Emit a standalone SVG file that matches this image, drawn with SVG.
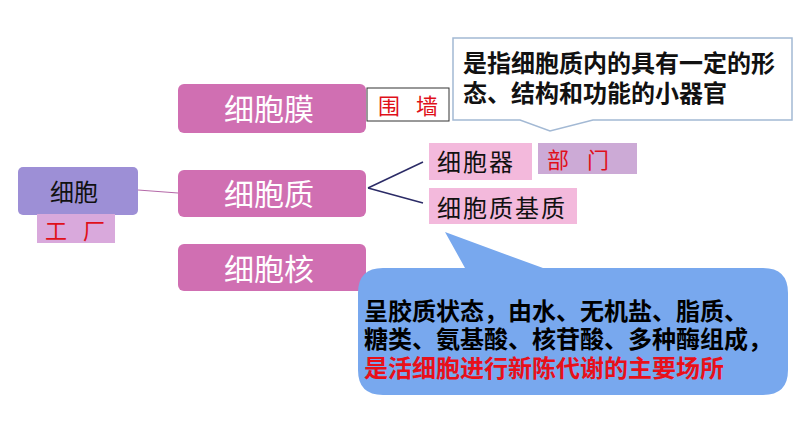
<svg xmlns="http://www.w3.org/2000/svg" width="794" height="447" viewBox="0 0 794 447">
<style>
.t{font-family:"Noto Sans CJK SC","Liberation Sans",sans-serif;}
.node{fill:#d06fb2;}
.nt{fill:#ffffff;font-size:30px;text-anchor:middle;dominant-baseline:central;}
.bt{fill:#111111;font-size:24px;text-anchor:middle;dominant-baseline:central;}
.rt{fill:#e0101a;font-size:22px;text-anchor:middle;dominant-baseline:central;}
.ct{font-size:24px;font-weight:bold;}
</style>
<rect width="794" height="447" fill="#ffffff"/>
<g id="connectors" fill="none">
<line x1="138" y1="190" x2="178" y2="193" stroke="#b56aa9" stroke-width="1.2"/>
<line x1="368" y1="188" x2="423" y2="162" stroke="#2b2b66" stroke-width="1.5"/>
<line x1="368" y1="188" x2="423" y2="203" stroke="#2b2b66" stroke-width="1.5"/>
</g>
<g id="cell">
<rect x="18" y="167" width="120" height="48" rx="5" fill="#9d8fd6"/>
<text class="t bt" x="74" y="190">细胞</text>
</g>
<g id="factory">
<rect x="37" y="214" width="78" height="29" fill="#d9a9dc"/>
<text class="t rt" x="83" y="229" letter-spacing="16">工厂</text>
</g>
<g id="membrane">
<rect class="node" x="178" y="84" width="188" height="49" rx="6"/>
<text class="t nt" x="269" y="107">细胞膜</text>
</g>
<g id="wall">
<rect x="367" y="88" width="82" height="33" fill="#ffffff" stroke="#333333" stroke-width="1"/>
<text class="t rt" x="416" y="104" letter-spacing="16">围墙</text>
</g>
<g id="cytoplasm">
<rect class="node" x="178" y="170" width="188" height="47" rx="6"/>
<text class="t nt" x="269" y="192">细胞质</text>
</g>
<g id="nucleus">
<rect class="node" x="178" y="244" width="188" height="47" rx="6"/>
<text class="t nt" x="269" y="267">细胞核</text>
</g>
<g id="organelle">
<rect x="429" y="143" width="103" height="37" fill="#f3b9dc"/>
<text class="t bt" x="476" y="160" letter-spacing="2">细胞器</text>
</g>
<g id="department">
<rect x="538" y="143" width="99" height="31" fill="#ccaad6"/>
<text class="t rt" x="587" y="158" letter-spacing="18">部门</text>
</g>
<g id="matrix">
<rect x="429" y="188" width="148" height="36" fill="#f3b9dc"/>
<text class="t bt" x="502" y="206" letter-spacing="2">细胞质基质</text>
</g>
<g id="callout-top">
<path d="M 453 38 L 792 38 L 792 120 L 593 120 L 550 131 L 520 120 L 453 120 Z" fill="#ffffff" stroke="#a3b9d4" stroke-width="1.5"/>
<text class="t ct" fill="#111111"><tspan x="463" y="72">是指细胞质内的具有一定的形</tspan><tspan x="463" y="102">态、结构和功能的小器官</tspan></text>
</g>
<g id="callout-bottom">
<path d="M 383 268 L 465 268 L 445 232 L 543 268 L 763 268 Q 788 268 788 293 L 788 370 Q 788 395 763 395 L 383 395 Q 358 395 358 370 L 358 293 Q 358 268 383 268 Z" fill="#78a8ee"/>
<text class="t ct" fill="#000000"><tspan x="364" y="320">呈胶质状态，由水、无机盐、脂质、</tspan><tspan x="364" y="348">糖类、氨基酸、核苷酸、多种酶组成，</tspan><tspan x="364" y="377" fill="#e8101a">是活细胞进行新陈代谢的主要场所</tspan></text>
</g>
</svg>
